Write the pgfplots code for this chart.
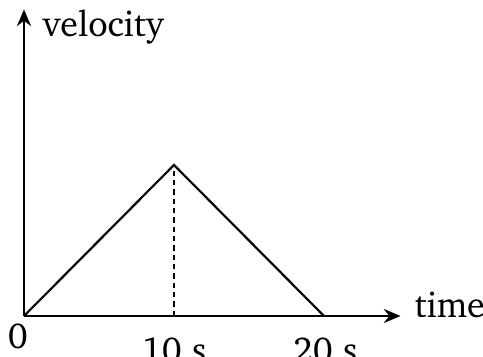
\documentclass[border=0pt]{standalone}
\usepackage[T1]{fontenc}
\usepackage{charter}
\usepackage{pgfplots}
\pgfplotsset{compat=1.18}
\usetikzlibrary{arrows.meta}
\begin{document}
\begin{tikzpicture}
\begin{axis}[
  anchor=origin, at={(0pt,0pt)},
  x=4.5pt, y=4.53pt,
  xmin=0, xmax=25.1, ymin=0, ymax=20.3,
  axis lines=left,
  axis line style={line width=0.65pt, -{Stealth[length=5pt,width=4.2pt]}},
  xtick=\empty, ytick=\empty,
  clip=false,
  font=\fontsize{10.8}{13}\selectfont,
]
% velocity-time profile: uniform acceleration then uniform deceleration
\addplot[black, line width=0.65pt] coordinates {(0,0) (10,10) (20,0)};
% peak marker
\addplot[black, line width=0.55pt, dash pattern=on 1.6pt off 1.2pt] coordinates {(10,0) (10,10)};
\node[anchor=base west, inner sep=0pt] at (axis cs:1.2,18.5) {velocity};
\node[anchor=base west, inner sep=0pt] at (axis cs:26.0,-0.1) {time};
\node[anchor=base, inner sep=0pt] at (axis cs:-0.4,-2.12) {0};
\node[anchor=base, inner sep=0pt] at (axis cs:10,-3.05) {10 s};
\node[anchor=base, inner sep=0pt] at (axis cs:20.07,-3.05) {20 s};
\end{axis}
\pgfresetboundingbox
\path[use as bounding box] (-7.2pt,-12.3pt) rectangle (137.7pt,94.8pt);
\end{tikzpicture}
\end{document}
